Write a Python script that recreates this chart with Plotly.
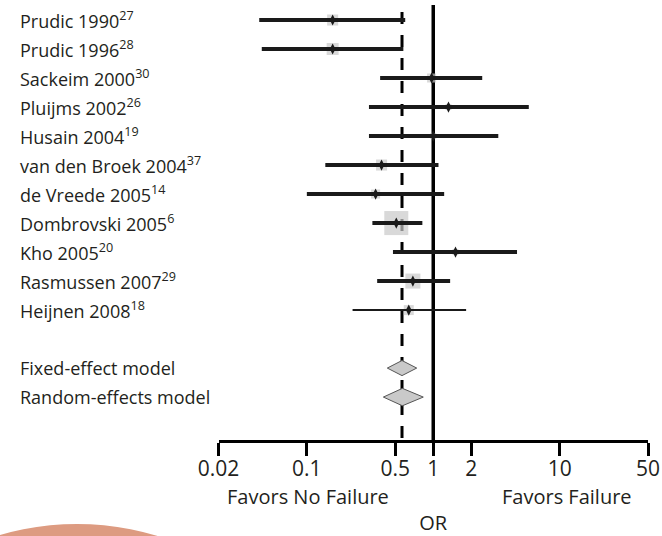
import numpy as np
import plotly.graph_objects as go

# Individual studies: odds ratio with 95% CI and relative weight (%)
studies = ["Prudic 1990", "Prudic 1996", "Sackeim 2000", "Pluijms 2002", "Husain 2004",
           "van den Broek 2004", "de Vreede 2005", "Dombrovski 2005", "Kho 2005",
           "Rasmussen 2007", "Heijnen 2008"]
refs = ["27", "28", "30", "26", "19", "37", "14", "6", "20", "29", "18"]
or_est = [0.16, 0.16, 0.97, 1.32, 1.00, 0.39, 0.35, 0.51, 1.50, 0.69, 0.64]
ci_low = [0.042, 0.044, 0.38, 0.31, 0.31, 0.14, 0.10, 0.33, 0.48, 0.36, 0.23]
ci_high = [0.60, 0.58, 2.44, 5.70, 3.27, 1.10, 1.22, 0.82, 4.60, 1.36, 1.82]
weights = [7.8, 9.2, 5.2, 2.3, 2.3, 7.8, 5.2, 37.0, 2.3, 14.5, 6.4]

# Pooled estimates
pooled_labels = ["Fixed-effect model", "Random-effects model"]
pooled_est = [0.566, 0.57]
pooled_low = [0.433, 0.403]
pooled_high = [0.74, 0.834]

tick_vals = [0.02, 0.1, 0.5, 1, 2, 10, 50]
tick_text = ["0.02", "0.1", "0.5", "1", "2", "10", "50"]

FONT = "Open Sans"
TXT = "#231f20"
W, H = 662, 536

n = len(studies)
rows = list(range(1, n + 1))
pooled_rows = [n + 2, n + 3]
y_bottom = 15.48
y_top = 0.31

fig = go.Figure()

# reference line at OR = 1
fig.add_trace(go.Scatter(x=[1, 1], y=[0.48, y_bottom], mode="lines",
                         line=dict(color="black", width=3.5), hoverinfo="skip"))
# dashed line at the fixed-effect estimate
fig.add_trace(go.Scatter(x=[pooled_est[0]] * 2, y=[0.72, y_bottom], mode="lines",
                         line=dict(color="black", width=3, dash="12px,11px"), hoverinfo="skip"))

# weight squares
sizes = [3.95 * np.sqrt(w) for w in weights]
fig.add_trace(go.Scatter(x=or_est, y=rows, mode="markers",
                         marker=dict(symbol="square", size=sizes, color="#c9c9c9",
                                     line=dict(width=0)), hoverinfo="skip"))

# confidence intervals
def segs(lo, hi, ys):
    xs, yy = [], []
    for a, b, y in zip(lo, hi, ys):
        xs += [a, b, None]
        yy += [y, y, None]
    return xs, yy

xs, ys = segs(ci_low[:-1], ci_high[:-1], rows[:-1])
fig.add_trace(go.Scatter(x=xs, y=ys, mode="lines", line=dict(color="#1a1a1a", width=4),
                         hoverinfo="skip"))
xs, ys = segs(ci_low[-1:], ci_high[-1:], rows[-1:])
fig.add_trace(go.Scatter(x=xs, y=ys, mode="lines", line=dict(color="#1a1a1a", width=2),
                         hoverinfo="skip"))

# point estimates
fig.add_trace(go.Scatter(x=or_est, y=rows, mode="markers",
                         marker=dict(symbol="diamond-tall", size=8, color="#1a1a1a"),
                         hoverinfo="skip"))

# pooled diamonds
for est, lo, hi, yr, h in zip(pooled_est, pooled_low, pooled_high, pooled_rows, [0.26, 0.3]):
    fig.add_trace(go.Scatter(x=[lo, est, hi, est, lo], y=[yr, yr - h, yr, yr + h, yr],
                             mode="lines", fill="toself", fillcolor="#c9c9c9",
                             line=dict(color="#555555", width=1), hoverinfo="skip"))

annotations = []
for s, r, y in zip(studies, refs, rows):
    annotations.append(dict(x=18 / W, xref="paper", y=y, yref="y", xanchor="left",
                            yanchor="middle", showarrow=False,
                            text=f"{s}<sup>{r}</sup>",
                            font=dict(family=FONT, size=18, color=TXT)))
for s, y in zip(pooled_labels, pooled_rows):
    annotations.append(dict(x=18 / W, xref="paper", y=y, yref="y", xanchor="left",
                            yanchor="middle", showarrow=False, text=s,
                            font=dict(family=FONT, size=18, color=TXT)))
annotations.append(dict(x=225 / W, xref="paper", y=(H - 496) / H, yref="paper",
                        xanchor="left", yanchor="middle", showarrow=False,
                        text="Favors No Failure", font=dict(family=FONT, size=20, color=TXT)))
annotations.append(dict(x=634 / W, xref="paper", y=(H - 496) / H, yref="paper",
                        xanchor="right", yanchor="middle", showarrow=False,
                        text="Favors Failure", font=dict(family=FONT, size=20, color=TXT)))

# decorative salmon disc in the lower-left corner
shapes = [dict(type="circle", xref="paper", yref="paper",
               x0=-198 / W, x1=352 / W, y0=(H - 1074) / H, y1=(H - 524) / H,
               fillcolor="#dd9b81", line=dict(width=0), layer="below")]

fig.update_layout(
    width=W, height=H,
    margin=dict(l=0, r=0, t=0, b=0, autoexpand=False),
    paper_bgcolor="white", plot_bgcolor="white",
    showlegend=False,
    annotations=annotations,
    shapes=shapes,
    xaxis=dict(type="log", range=[np.log10(0.02), np.log10(50)],
               domain=[218.5 / W, 648 / W],
               tickvals=tick_vals, ticktext=tick_text,
               ticks="outside", ticklen=13, tickwidth=3, tickcolor="black",
               showline=True, linewidth=3, linecolor="black",
               showgrid=False, zeroline=False,
               tickfont=dict(family=FONT, size=21, color=TXT),
               ticklabelstandoff=-5,
               title=dict(text="OR", font=dict(family=FONT, size=20, color=TXT), standoff=36),
               automargin=False),
    yaxis=dict(range=[y_bottom, y_top], domain=[(H - 440) / H, 1], visible=False,
               automargin=False),
)

fig.write_html("out.html")
